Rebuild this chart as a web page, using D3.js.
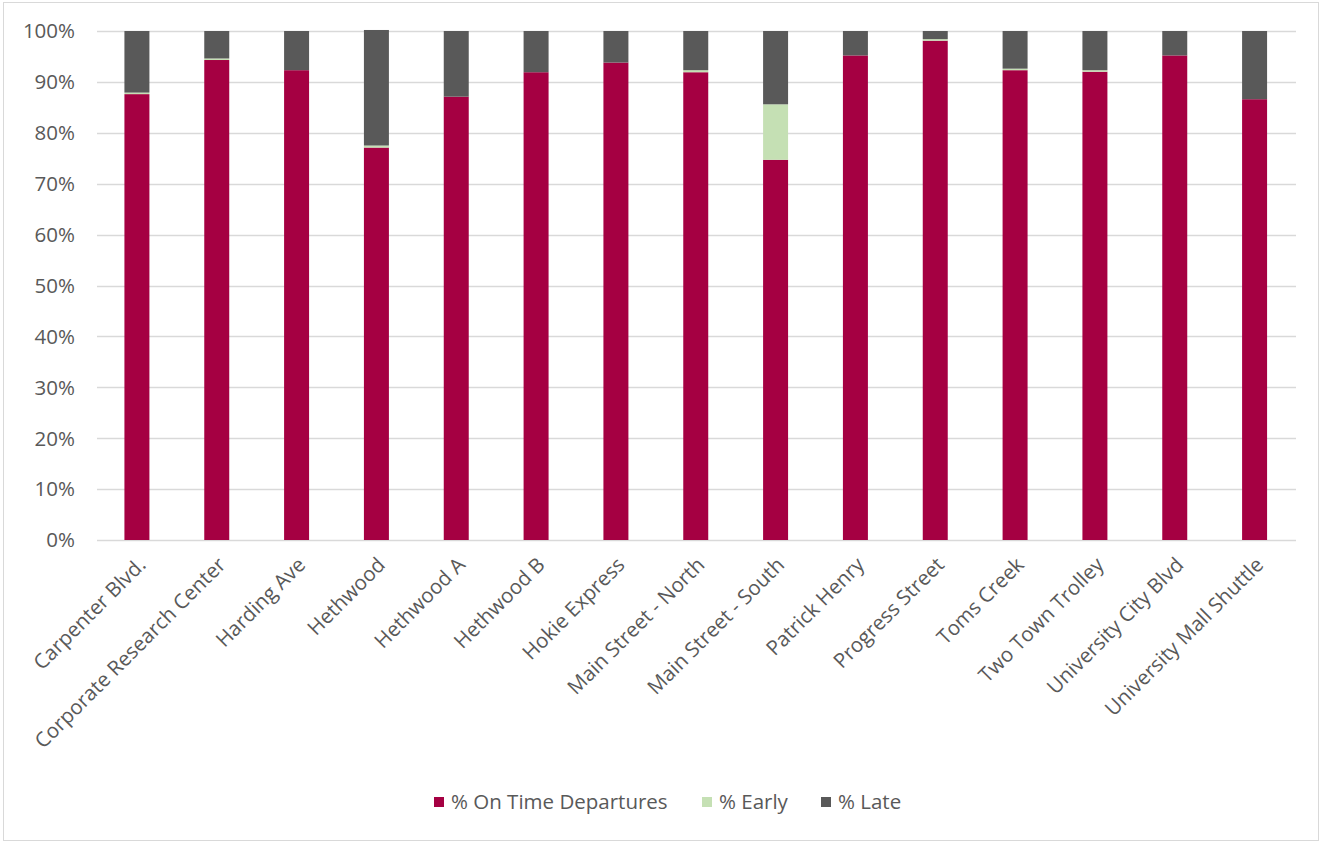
<!DOCTYPE html>
<html>
<head>
<meta charset="utf-8">
<script src="https://cdn.jsdelivr.net/npm/d3@7"></script>
<style>
  html, body { margin: 0; padding: 0; background: #fff; }
  svg text { font-family: "Open Sans", "Noto Sans", sans-serif; fill: #595959; }
</style>
</head>
<body>
<svg id="chart" width="1322" height="842"></svg>
<script>
// Route names (x categories)
const routes = [
  "Carpenter Blvd.", "Corporate Research Center", "Harding Ave", "Hethwood",
  "Hethwood A", "Hethwood B", "Hokie Express", "Main Street - North",
  "Main Street - South", "Patrick Henry", "Progress Street", "Toms Creek",
  "Two Town Trolley", "University City Blvd", "University Mall Shuttle"
];

// Share of departures per route, in percent
const onTime = [87.6, 94.3, 92.3, 77.1, 87.1, 91.9, 93.8, 91.9, 74.7, 95.2, 98.1, 92.3, 92.0, 95.2, 86.6];
const early  = [ 0.3,  0.3,  0.0,  0.4,  0.0,  0.0,  0.0,  0.4, 10.9,  0.0,  0.3,  0.3,  0.3,  0.0,  0.0];
const late   = [12.1,  5.4,  7.7, 22.7, 12.9,  8.1,  6.2,  7.7, 14.4,  4.8,  1.6,  7.4,  7.7,  4.8, 13.4];

// Series labels and y-axis ticks
const seriesNames = ["% On Time Departures", "% Early", "% Late"];
const yTicks = [0, 10, 20, 30, 40, 50, 60, 70, 80, 90, 100];

const colors = { "% On Time Departures": "#A50042", "% Early": "#C5E0B4", "% Late": "#595959" };

const svg = d3.select("#chart");
const plot = { left: 97, right: 1294.5, top: 31, bottom: 540 };
const fontSize = "20.5px";

// Outer chart frame
svg.append("rect")
  .attr("x", 3.5).attr("y", 2.5)
  .attr("width", 1315).attr("height", 838)
  .attr("fill", "#fff").attr("stroke", "#D9D9D9").attr("stroke-width", 1);

const x = d3.scaleBand()
  .domain(routes)
  .range([plot.left, plot.right])
  .paddingInner(0.687)
  .paddingOuter(0.687 / 2);

const y = d3.scaleLinear().domain([0, 100]).range([plot.bottom, plot.top]);

// Horizontal gridlines
svg.append("g").selectAll("line")
  .data(yTicks)
  .join("line")
  .attr("x1", plot.left).attr("x2", plot.right + 1.5)
  .attr("y1", d => Math.round(y(d)) + 0.5)
  .attr("y2", d => Math.round(y(d)) + 0.5)
  .attr("stroke", "#D9D9D9").attr("stroke-width", 1.5);

// Y-axis labels
svg.append("g").selectAll("text")
  .data(yTicks)
  .join("text")
  .attr("x", plot.left - 22)
  .attr("y", d => y(d))
  .attr("dy", "0.36em")
  .attr("text-anchor", "end")
  .style("font-size", fontSize)
  .text(d => d + "%");

// Stacked bars
const rows = routes.map((r, i) => ({
  route: r,
  "% On Time Departures": onTime[i],
  "% Early": early[i],
  "% Late": late[i]
}));
const stacked = d3.stack().keys(seriesNames)(rows);

svg.append("g").selectAll("g")
  .data(stacked)
  .join("g")
  .attr("fill", d => colors[d.key])
  .selectAll("rect")
  .data(d => d)
  .join("rect")
  .attr("x", d => x(d.data.route))
  .attr("width", x.bandwidth())
  .attr("y", d => y(d[1]))
  .attr("height", d => Math.max(0, y(d[0]) - y(d[1])));

// X-axis category labels, rotated
svg.append("g").selectAll("text")
  .data(routes)
  .join("text")
  .attr("transform", d => `translate(${x(d) + x.bandwidth() / 2 + 5},${plot.bottom + 21}) rotate(-45)`)
  .attr("text-anchor", "end")
  .attr("dy", "0.35em")
  .style("font-size", fontSize)
  .text(d => d);

// Legend
const legendItems = [
  { name: "% On Time Departures", x: 434 },
  { name: "% Early", x: 702 },
  { name: "% Late", x: 821 }
];
const lg = svg.append("g").selectAll("g")
  .data(legendItems)
  .join("g")
  .attr("transform", d => `translate(${d.x},${802})`);
lg.append("rect")
  .attr("x", 0).attr("y", -5)
  .attr("width", 10).attr("height", 10)
  .attr("fill", d => colors[d.name]);
lg.append("text")
  .attr("x", 17).attr("y", 0)
  .attr("dy", "0.36em")
  .style("font-size", fontSize)
  .text(d => d.name);
</script>
</body>
</html>
